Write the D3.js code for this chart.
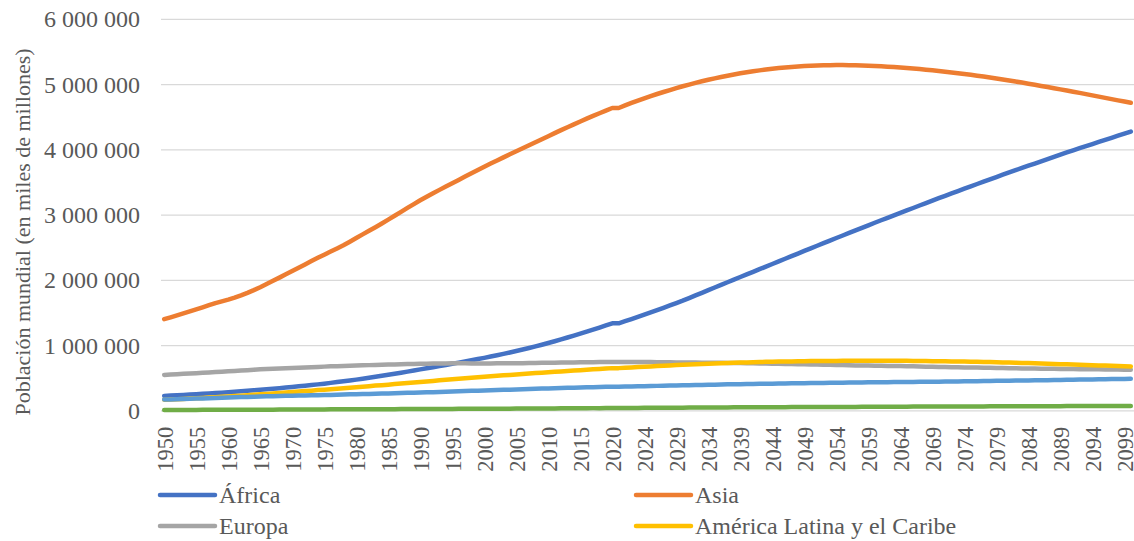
<!DOCTYPE html>
<html>
<head>
<meta charset="utf-8">
<script src="https://cdn.jsdelivr.net/npm/d3@7"></script>
<style>
  body { margin: 0; background: #fff; }
</style>
</head>
<body>
<div id="chart"></div>
<script>
// years: estimates 1950-2020, then projections 2020-2100 (2020 appears twice)
var years = d3.range(1950, 2021).concat(d3.range(2020, 2101));

var africa = [
  228,233,238,243,248,254,260,266,272,278,
  285,292,299,306,314,322,330,338,347,356,
  366,375,385,395,405,416,428,440,452,465,
  478,492,506,521,536,551,567,583,600,617,
  635,652,668,685,702,720,738,756,774,793,
  811,831,851,872,894,916,939,962,987,1013,
  1039,1066,1094,1123,1152,1182,1213,1244,1276,1308,
  1341,
  1341,1373,1406,1440,1474,1508,1543,1578,1614,1651,
  1688,1728,1768,1808,1849,1890,1930,1970,2010,2050,
  2090,2130,2170,2210,2250,2290,2330,2370,2410,2450,
  2489,2529,2569,2609,2648,2687,2726,2765,2804,2843,
  2882,2920,2958,2996,3033,3071,3108,3146,3183,3221,
  3258,3295,3331,3368,3404,3440,3476,3512,3548,3583,
  3618,3653,3688,3722,3756,3790,3824,3858,3892,3926,
  3960,3992,4024,4056,4088,4120,4152,4184,4216,4248,
  4280
].map(function (d) { return d * 1000; });

var asia = [
  1405,1433,1462,1492,1523,1554,1586,1619,1650,1676,
  1703,1733,1768,1807,1849,1894,1943,1992,2041,2091,
  2142,2193,2244,2295,2345,2393,2440,2488,2537,2592,
  2649,2704,2759,2814,2871,2929,2989,3049,3109,3168,
  3226,3281,3334,3386,3437,3487,3538,3589,3640,3691,
  3741,3789,3836,3884,3931,3977,4023,4070,4116,4163,
  4209,4255,4301,4346,4390,4434,4477,4519,4561,4601,
  4641,
  4641,4680,4718,4754,4789,4823,4855,4886,4916,4946,
  4974,5000,5025,5050,5073,5095,5115,5135,5154,5172,
  5188,5203,5217,5230,5242,5252,5261,5269,5276,5283,
  5288,5292,5295,5297,5298,5298,5297,5295,5292,5289,
  5285,5280,5274,5268,5261,5254,5246,5237,5228,5218,
  5208,5197,5186,5174,5162,5149,5136,5122,5108,5093,
  5078,5062,5046,5030,5013,4996,4979,4962,4944,4926,
  4908,4890,4872,4853,4834,4815,4796,4777,4758,4739,
  4720
].map(function (d) { return d * 1000; });

var europa = [
  549,555,560,566,571,577,582,588,594,599,
  605,611,617,623,629,635,640,644,649,653,
  657,661,665,669,673,677,681,684,688,691,
  694,697,700,702,705,708,711,714,716,719,
  721,722,724,725,726,727,727,727,726,726,
  726,726,727,727,728,729,730,732,733,735,
  736,738,739,741,742,743,744,745,746,747,
  748,
  748,748,747,747,746,746,745,744,743,742,
  741,740,739,738,737,736,735,734,732,731,
  730,728,726,724,722,720,718,716,714,712,
  710,708,706,704,702,700,698,696,694,693,
  691,689,688,686,685,683,681,679,677,675,
  673,671,669,667,665,664,662,660,658,656,
  655,653,652,650,649,647,646,644,643,641,
  640,639,638,637,636,635,634,633,632,631,
  630
].map(function (d) { return d * 1000; });

var latam = [
  169,173,178,182,187,192,197,203,208,214,
  220,226,232,239,245,252,259,266,273,280,
  287,294,302,309,317,324,332,339,347,354,
  362,370,378,386,393,401,409,417,426,434,
  442,450,458,467,475,483,491,499,507,514,
  522,529,536,543,550,557,564,571,578,584,
  591,598,604,611,617,623,629,636,642,648,
  654,
  654,659,665,670,675,680,685,690,696,701,
  706,710,714,718,722,726,729,732,736,739,
  742,745,747,750,752,754,756,757,759,760,
  762,763,764,765,765,766,766,767,767,768,
  768,768,767,767,766,766,765,764,762,761,
  760,758,757,755,754,752,750,748,746,744,
  742,739,736,733,731,728,725,722,718,715,
  712,709,706,702,699,696,693,690,686,683,
  680
].map(function (d) { return d * 1000; });

var norteamerica = [
  173,175,178,181,184,187,190,194,197,201,
  204,207,210,213,216,219,222,224,227,229,
  231,233,235,237,240,242,244,247,249,252,
  254,257,259,262,264,267,269,272,275,277,
  280,283,286,290,293,296,299,302,306,309,
  312,315,318,321,324,327,330,333,337,340,
  343,346,349,352,354,357,360,362,365,367,
  369,
  369,371,374,376,378,380,382,385,387,389,
  391,393,395,397,399,401,403,405,406,408,
  410,412,413,415,416,418,419,421,422,424,
  425,426,427,429,430,431,432,433,435,436,
  437,438,439,440,441,442,443,444,445,446,
  447,448,449,450,452,453,454,456,457,459,
  460,461,463,464,466,467,469,470,472,473,
  475,477,478,480,481,483,485,486,488,489,
  491
].map(function (d) { return d * 1000; });

var oceania = [
  13,13,13,14,14,14,15,15,15,16,
  16,16,17,17,17,18,18,18,19,19,
  20,20,20,21,21,21,22,22,22,23,
  23,23,24,24,24,25,25,26,26,27,
  27,27,28,28,29,29,30,30,30,31,
  31,32,32,33,33,34,34,35,36,36,
  37,37,38,38,39,40,40,41,41,42,
  43,
  43,43,44,44,45,46,46,47,47,48,
  48,49,49,50,50,51,51,52,53,53,
  54,54,55,55,56,56,56,57,57,57,
  57,58,58,59,59,60,60,60,61,61,
  62,62,62,63,63,63,64,64,64,65,
  65,65,66,66,66,67,67,67,68,68,
  68,69,69,69,70,70,70,71,71,71,
  72,72,72,73,73,73,73,74,74,74,
  75
].map(function (d) { return d * 1000; });

var yTicks = [0, 1000000, 2000000, 3000000, 4000000, 5000000, 6000000];

var series = [
  { name: "África", values: africa, color: "#4472C4", legend: true },
  { name: "Asia", values: asia, color: "#ED7D31", legend: true },
  { name: "Europa", values: europa, color: "#A5A5A5", legend: true },
  { name: "América Latina y el Caribe", values: latam, color: "#FFC000", legend: true },
  { name: "América del Norte", values: norteamerica, color: "#5B9BD5", legend: false },
  { name: "Oceanía", values: oceania, color: "#70AD47", legend: false }
];

var FONT = "'Liberation Serif', 'Times New Roman', serif";
var TEXT_COLOR = "#595959";

var width = 1134, height = 541;
var plot = { left: 161, right: 1134, top: 19.3, bottom: 410.8 };

var svg = d3.select("#chart")
  .append("svg")
  .attr("width", width)
  .attr("height", height);

var x = d3.scalePoint()
  .domain(d3.range(years.length))
  .range([plot.left, plot.right])
  .padding(0.5);

var y = d3.scaleLinear()
  .domain([0, 6000000])
  .range([plot.bottom, plot.top]);

var fmt = d3.formatLocale({ decimal: ",", thousands: " ", grouping: [3], currency: ["", ""] }).format(",d");

// gridlines
svg.append("g")
  .selectAll("line")
  .data(yTicks)
  .join("line")
  .attr("x1", plot.left)
  .attr("x2", plot.right)
  .attr("y1", function (d) { return y(d); })
  .attr("y2", function (d) { return y(d); })
  .attr("stroke", "#D9D9D9")
  .attr("stroke-width", 1.2);

// y axis labels
var yAxis = d3.axisLeft(y).tickValues(yTicks).tickFormat(fmt).tickSize(0).tickPadding(0);
var gy = svg.append("g")
  .attr("transform", "translate(140,0)")
  .call(yAxis);
gy.select(".domain").remove();
gy.selectAll("text")
  .style("font-family", FONT)
  .style("font-size", "24px")
  .style("fill", TEXT_COLOR);

// y axis title
svg.append("text")
  .attr("transform", "translate(22,232) rotate(-90)")
  .attr("text-anchor", "middle")
  .attr("dy", "0.35em")
  .style("font-family", FONT)
  .style("font-size", "22px")
  .style("fill", TEXT_COLOR)
  .text("Población mundial (en miles de millones)");

// x axis labels
var xAxis = d3.axisBottom(x)
  .tickValues(d3.range(0, years.length, 5))
  .tickFormat(function (i) { return years[i]; })
  .tickSize(0);
var gx = svg.append("g")
  .attr("transform", "translate(0," + plot.bottom + ")")
  .call(xAxis);
gx.select(".domain").remove();
gx.selectAll("text")
  .style("font-family", FONT)
  .style("font-size", "22.5px")
  .style("fill", TEXT_COLOR)
  .attr("text-anchor", "end")
  .attr("transform", "rotate(-90)")
  .attr("x", -16)
  .attr("y", 0)
  .attr("dy", "0.35em");

// lines
var line = d3.line()
  .x(function (d, i) { return x(i); })
  .y(function (d) { return y(d); });

svg.append("g")
  .selectAll("path")
  .data(series)
  .join("path")
  .attr("d", function (d) { return line(d.values); })
  .attr("fill", "none")
  .attr("stroke", function (d) { return d.color; })
  .attr("stroke-width", 4.5)
  .attr("stroke-linecap", "round")
  .attr("stroke-linejoin", "round");

// legend
var legendItems = series.filter(function (d) { return d.legend; });
var legend = svg.selectAll(".legend")
  .data(legendItems)
  .join("g")
  .attr("class", "legend")
  .attr("transform", function (d, i) {
    return "translate(" + (i % 2 === 0 ? 160 : 636) + "," + (i < 2 ? 495 : 526) + ")";
  });

legend.append("line")
  .attr("x1", 0)
  .attr("x2", 55)
  .attr("stroke", function (d) { return d.color; })
  .attr("stroke-width", 4.5)
  .attr("stroke-linecap", "round");

legend.append("text")
  .attr("x", 59)
  .attr("dy", "0.35em")
  .style("font-family", FONT)
  .style("font-size", "24px")
  .style("fill", TEXT_COLOR)
  .text(function (d) { return d.name; });
</script>
</body>
</html>
